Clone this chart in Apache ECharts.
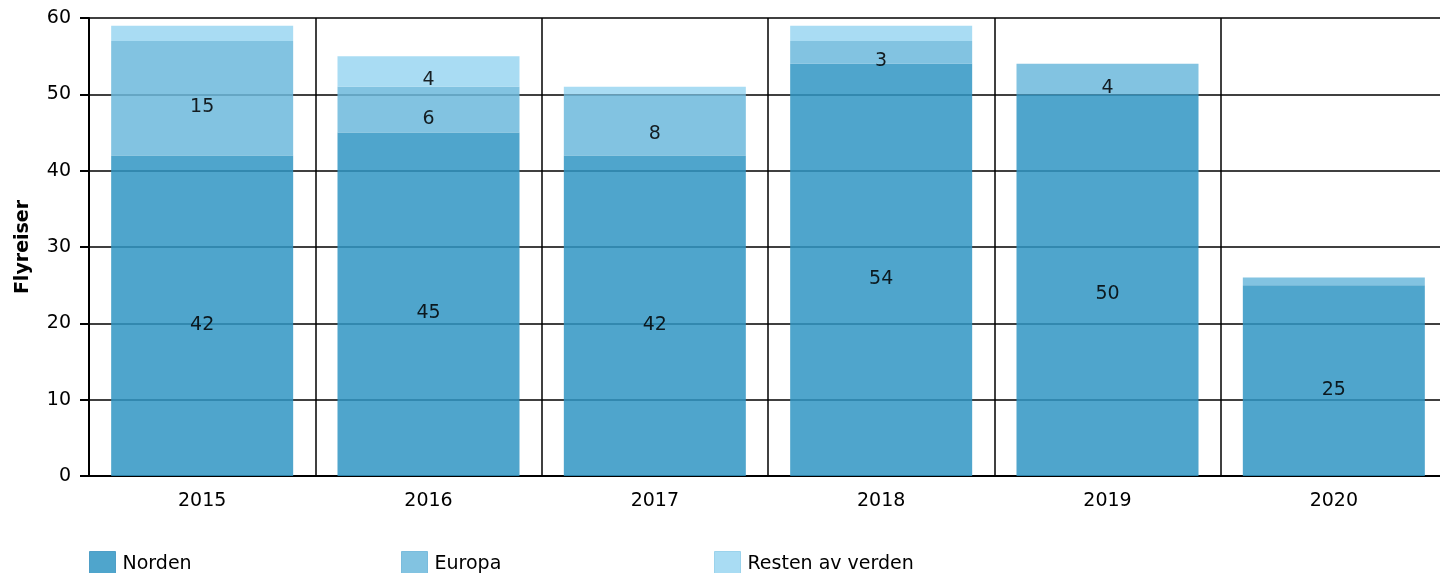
<!DOCTYPE html>
<html>
<head>
<meta charset="utf-8">
<script src="https://cdn.jsdelivr.net/npm/echarts@6/dist/echarts.min.js"></script>
<style>
  html, body { margin: 0; padding: 0; background: #fff; }
  #chart { width: 1440px; height: 573px; }
</style>
</head>
<body>
<div id="chart"></div>
<script>
const years = ["2015", "2016", "2017", "2018", "2019", "2020"];
const norden = [42, 45, 42, 54, 50, 25];
const europa = [15, 6, 8, 3, 4, 1];
const resten = [2, 4, 1, 2, 0, 0];
const seriesNames = ["Norden", "Europa", "Resten av verden"];

const font = "DejaVu Sans, Verdana, sans-serif";
const borders = ["#3f97c2", "#6db6d9", "#92cfea"];

function makeSeries(name, data, color) {
  return {
    name: name,
    type: "bar",
    stack: "total",
    data: data,
    barWidth: 182,
    itemStyle: { color: color, opacity: 0.85 },
    label: {
      show: true,
      position: "inside",
      offset: [0, 9],
      color: "#000",
      fontFamily: font,
      fontSize: 19,
      formatter: p => (p.value >= 3 ? p.value : "")
    }
  };
}

// one legend per item so each can sit at its own x
const legendX = [89, 401, 714];
let legends = seriesNames.map((n, i) => ({
  left: legendX[i],
  top: 551,
  padding: 0,
  itemWidth: 26,
  itemHeight: 26,
  itemGap: 0,
  icon: "rect",
  itemStyle: { borderColor: borders[i], borderWidth: 1 },
  textStyle: { fontFamily: font, fontSize: 19, color: "#000", padding: [0, 0, 0, 2] },
  data: [n]
}));

let myChart = echarts.init(document.getElementById("chart"));
let option = {
  animation: false,
  textStyle: { fontFamily: font },
  grid: { left: 89, top: 18, width: 1358, height: 458, outerBoundsMode: "none", containLabel: false },
  legend: legends,
  xAxis: {
    type: "category",
    data: years,
    axisLine: { lineStyle: { color: "#000", width: 2 } },
    axisTick: { alignWithLabel: true, length: 7, lineStyle: { color: "#000", width: 2 } },
    axisLabel: { color: "#000", fontSize: 19, fontFamily: font, margin: 16 },
    splitLine: { show: true, lineStyle: { color: "#000", width: 1.5 } }
  },
  yAxis: {
    type: "value",
    min: 0,
    max: 60,
    interval: 10,
    name: "Flyreiser",
    nameLocation: "middle",
    nameGap: 56,
    nameTextStyle: { fontFamily: font, fontSize: 19, fontWeight: "bold", color: "#000" },
    axisLine: { show: true, lineStyle: { color: "#000", width: 2 } },
    axisTick: { show: true, length: 9, lineStyle: { color: "#000", width: 2 } },
    axisLabel: { color: "#000", fontSize: 19, fontFamily: font, margin: 18 },
    splitLine: { lineStyle: { color: "#000", width: 1.5 } }
  },
  series: [
    makeSeries("Norden", norden, "#3095c3"),
    makeSeries("Europa", europa, "#6cb8dc"),
    makeSeries("Resten av verden", resten, "#9ad6f1")
  ]
};
myChart.setOption(option);
window.addEventListener("resize", function() {
  myChart.resize();
});
</script>
</body>
</html>
